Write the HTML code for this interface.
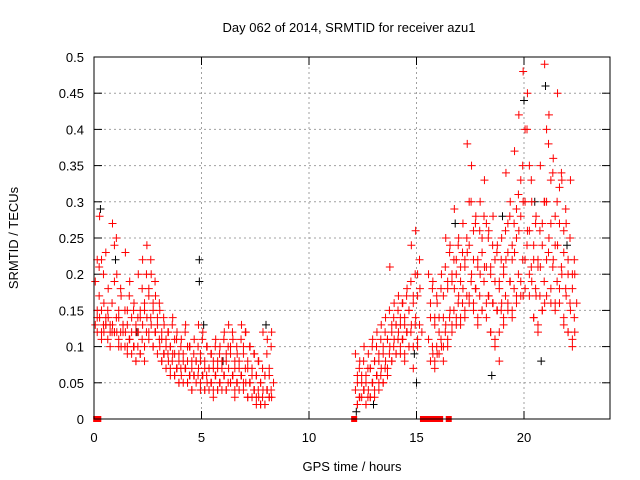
<!DOCTYPE html>
<html><head><meta charset="utf-8"><style>
body{margin:0;background:#fff}
svg{display:block;font-family:"Liberation Sans",sans-serif}
</style></head><body>
<svg id="chart" width="640" height="480">
<text x="349" y="32" font-size="13" text-anchor="middle">Day 062 of 2014, SRMTID for receiver azu1</text>
<text x="352" y="471" font-size="13" text-anchor="middle">GPS time / hours</text>
<text transform="translate(18,238) rotate(-90)" font-size="13" text-anchor="middle">SRMTID / TECUs</text>
<g id="grid"></g>
<g id="ticks"></g>
<g id="marks"></g>
<rect x="94" y="57" width="516" height="362" fill="none" stroke="#000"/>
</svg>
<script>
const xTicks=[0,5,10,15,20];
const yTicks=[0,0.05,0.1,0.15,0.2,0.25,0.3,0.35,0.4,0.45,0.5];
const yTickLabels=["0","0.05","0.1","0.15","0.2","0.25","0.3","0.35","0.4","0.45","0.5"];
const redTimes=[0.1,0.3,0.5,0.7,0.9,1.1,1.3,1.5,1.7,1.9,2.1,2.3,2.5,2.7,2.9,3.1,3.3,3.5,3.7,3.9,4.1,4.3,4.5,4.7,4.9,5.1,5.3,5.5,5.7,5.9,6.1,6.3,6.5,6.7,6.9,7.1,7.3,7.5,7.7,7.9,8.1,8.3,
12.2,12.4,12.6,12.8,13.0,13.2,13.4,13.6,13.8,14.0,14.2,14.4,14.6,14.8,15.0,15.2,
15.6,15.8,16.0,16.2,16.4,16.6,16.8,17.0,17.2,17.4,17.6,17.8,18.0,18.2,18.4,18.6,18.8,19.0,19.2,19.4,19.6,19.8,20.0,20.2,20.4,20.6,20.8,21.0,21.2,21.4,21.6,21.8,22.0,22.2,22.4];
const redValues=[[0.19,0.15,0.13,0.22],[0.28,0.22,0.14,0.12],[0.16,0.13,0.12,0.23],[0.14,0.12,0.18],[0.27,0.24,0.13,0.12],[0.2,0.15,0.12,0.11],[0.17,0.13,0.1],[0.23,0.15,0.12,0.09],[0.19,0.14,0.11],[0.16,0.13,0.1,0.08],[0.2,0.15,0.12,0.09],[0.22,0.16,0.13,0.08],[0.24,0.18,0.14,0.11],[0.2,0.16,0.13,0.1],[0.17,0.14,0.12],[0.15,0.12,0.1,0.08],[0.13,0.11,0.09],[0.12,0.1,0.08,0.07],[0.14,0.11,0.09,0.06],[0.12,0.09,0.07,0.05],[0.11,0.08,0.06],[0.13,0.1,0.07,0.05],[0.1,0.08,0.06,0.04],[0.11,0.08,0.06],[0.13,0.09,0.07,0.05],[0.12,0.08,0.06,0.04],[0.1,0.07,0.05],[0.09,0.07,0.05,0.03],[0.11,0.08,0.06,0.04],[0.1,0.07,0.05],[0.12,0.09,0.06,0.04],[0.13,0.1,0.07,0.05],[0.11,0.08,0.06,0.03],[0.09,0.07,0.05],[0.13,0.1,0.06,0.04],[0.12,0.08,0.05,0.03],[0.1,0.07,0.05],[0.09,0.06,0.04,0.03],[0.08,0.05,0.03,0.02],[0.12,0.06,0.04,0.02],[0.11,0.07,0.04,0.03],[0.12,0.05,0.03],
[0.09,0.06,0.04,0.02],[0.08,0.05,0.03],[0.1,0.06,0.04,0.02],[0.09,0.07,0.04,0.03],[0.11,0.08,0.05,0.03],[0.12,0.09,0.06,0.04],[0.13,0.1,0.07,0.05],[0.14,0.11,0.08,0.06],[0.21,0.13,0.1,0.08],[0.16,0.13,0.11,0.09],[0.17,0.14,0.12,0.09],[0.16,0.13,0.11,0.08],[0.18,0.15,0.12,0.1],[0.24,0.17,0.13,0.07],[0.26,0.2,0.14,0.1],[0.18,0.12],
[0.2,0.16,0.11],[0.19,0.14,0.09,0.07],[0.16,0.12,0.09],[0.2,0.14,0.1,0.08],[0.25,0.19,0.13,0.1],[0.24,0.2,0.15,0.12],[0.29,0.22,0.18,0.14],[0.25,0.21,0.17,0.13],[0.27,0.22,0.18,0.15],[0.38,0.3,0.23,0.17],[0.35,0.26,0.2,0.16],[0.28,0.22,0.18,0.13],[0.3,0.25,0.2,0.15],[0.33,0.27,0.21,0.16],[0.26,0.21,0.17,0.12],[0.28,0.22,0.16,0.1],[0.24,0.19,0.15,0.08],[0.25,0.2,0.16,0.13],[0.34,0.27,0.22,0.16],[0.3,0.24,0.19,0.14],[0.37,0.29,0.23,0.17],[0.42,0.33,0.26,0.19],[0.48,0.4,0.3,0.22,0.17],[0.45,0.35,0.26,0.2],[0.3,0.24,0.19,0.14],[0.28,0.22,0.17,0.12],[0.35,0.27,0.21,0.15],[0.49,0.4,0.3,0.22,0.16],[0.42,0.33,0.25,0.18],[0.36,0.28,0.22,0.16],[0.45,0.32,0.24,0.18],[0.33,0.26,0.2,0.14],[0.27,0.22,0.17,0.12],[0.33,0.2,0.15,0.1],[0.2,0.16,0.12]];
const redTimes2=[0.2,0.4,0.6,0.8,1.0,1.2,1.4,1.6,1.8,2.0,2.2,2.4,2.6,2.8,3.0,3.2,3.4,3.6,3.8,4.0,4.2,4.4,4.6,4.8,5.0,5.2,5.4,5.6,5.8,6.0,6.2,6.4,6.6,6.8,7.0,7.2,7.4,7.6,7.8,8.0,8.2,
12.3,12.5,12.7,12.9,13.1,13.3,13.5,13.7,13.9,14.1,14.3,14.5,14.7,14.9,15.1,
15.7,15.9,16.1,16.3,16.5,16.7,16.9,17.1,17.3,17.5,17.7,17.9,18.1,18.3,18.5,18.7,18.9,19.1,19.3,19.5,19.7,19.9,20.1,20.3,20.5,20.7,20.9,21.1,21.3,21.5,21.7,21.9,22.1,22.3];
const redValues2=[[0.17,0.14,0.21,0.12],[0.2,0.15,0.13,0.11],[0.15,0.13,0.11,0.14],[0.16,0.13,0.12,0.1],[0.25,0.19,0.14,0.12],[0.18,0.14,0.12,0.1],[0.15,0.12,0.1,0.13],[0.17,0.13,0.11,0.1],[0.15,0.12,0.1,0.09],[0.14,0.12,0.1,0.08],[0.18,0.14,0.11,0.09],[0.2,0.15,0.12,0.1],[0.22,0.17,0.14,0.12],[0.19,0.15,0.12,0.1],[0.16,0.13,0.11,0.09],[0.14,0.11,0.09,0.08],[0.12,0.1,0.09,0.07],[0.13,0.1,0.08,0.06],[0.11,0.09,0.07,0.06],[0.1,0.08,0.07,0.05],[0.12,0.09,0.07,0.05],[0.1,0.08,0.06,0.05],[0.09,0.07,0.06,0.04],[0.1,0.08,0.06,0.05],[0.11,0.08,0.06,0.04],[0.1,0.07,0.06,0.04],[0.09,0.07,0.05,0.04],[0.1,0.08,0.06,0.04],[0.09,0.07,0.05,0.04],[0.11,0.08,0.06,0.04],[0.1,0.08,0.05,0.04],[0.12,0.09,0.06,0.05],[0.1,0.07,0.05,0.04],[0.11,0.08,0.06,0.04],[0.12,0.09,0.07,0.05],[0.1,0.07,0.05,0.03],[0.09,0.06,0.04,0.03],[0.08,0.06,0.04,0.02],[0.07,0.05,0.03,0.02],[0.09,0.06,0.04,0.02],[0.1,0.06,0.04,0.03],
[0.07,0.05,0.03,0.02],[0.08,0.06,0.04,0.03],[0.07,0.05,0.03,0.02],[0.1,0.07,0.05,0.03],[0.1,0.08,0.06,0.04],[0.11,0.08,0.06,0.05],[0.12,0.09,0.07,0.05],[0.15,0.11,0.09,0.07],[0.14,0.12,0.1,0.08],[0.15,0.13,0.11,0.09],[0.16,0.13,0.11,0.1],[0.17,0.14,0.12,0.09],[0.19,0.15,0.12,0.1],[0.2,0.16,0.13,0.1],[0.22,0.17,0.13,0.11],
[0.18,0.14,0.1,0.08],[0.17,0.13,0.1,0.08],[0.18,0.14,0.11,0.09],[0.21,0.17,0.12,0.1],[0.23,0.18,0.14,0.11],[0.22,0.19,0.15,0.13],[0.24,0.2,0.16,0.13],[0.23,0.19,0.16,0.14],[0.25,0.21,0.17,0.14],[0.3,0.24,0.19,0.16],[0.27,0.22,0.18,0.15],[0.26,0.21,0.17,0.14],[0.28,0.23,0.19,0.15],[0.25,0.21,0.17,0.14],[0.24,0.2,0.16,0.12],[0.23,0.19,0.15,0.11],[0.22,0.18,0.15,0.12],[0.26,0.21,0.17,0.14],[0.28,0.23,0.19,0.15],[0.27,0.22,0.18,0.15],[0.31,0.25,0.2,0.16],[0.35,0.28,0.22,0.17],[0.4,0.3,0.24,0.18],[0.33,0.26,0.21,0.17],[0.27,0.22,0.18,0.14],[0.26,0.21,0.17,0.13],[0.3,0.24,0.19,0.15],[0.38,0.3,0.23,0.17],[0.34,0.27,0.21,0.16],[0.3,0.24,0.19,0.15],[0.34,0.27,0.21,0.16],[0.29,0.23,0.18,0.13],[0.25,0.2,0.16,0.12],[0.22,0.18,0.14,0.11]];
const zeroTimes=[0.1,0.2,12.1,15.3,15.4,15.5,15.6,15.7,15.8,15.9,16.0,16.1,16.5];
const blackTimes=[0.3,1.0,2.0,4.9,4.9,5.1,6.0,8.0,12.2,13.0,14.9,15.0,16.8,18.5,19.0,20.0,20.5,20.8,21.0,22.0];
const blackValues=[0.29,0.22,0.12,0.22,0.19,0.13,0.08,0.13,0.01,0.02,0.09,0.05,0.27,0.06,0.28,0.44,0.3,0.08,0.46,0.24];

const X0=94,X1=610,Y0=419,Y1=57,XMAX=24,YMAX=0.5;
const sx=t=>X0+(t/XMAX)*(X1-X0);
const sy=v=>Y0-(v/YMAX)*(Y0-Y1);
const NS="http://www.w3.org/2000/svg";
const grid=document.getElementById('grid'),ticks=document.getElementById('ticks'),marks=document.getElementById('marks');
function mk(tag,attrs,parent){const e=document.createElementNS(NS,tag);for(const k in attrs)e.setAttribute(k,attrs[k]);parent.appendChild(e);return e;}
yTicks.forEach((v,i)=>{
  const y=sy(v);
  if(i>0&&i<yTicks.length-1){const g=mk('line',{x1:X0,x2:X1,y1:y,y2:y,stroke:'#a0a0a0','stroke-dasharray':'2,3'},grid);
  
  }
  mk('line',{x1:X0,x2:X0+8,y1:y,y2:y,stroke:'#000'},ticks);
  mk('line',{x1:X1,x2:X1-8,y1:y,y2:y,stroke:'#000'},ticks);
  const t=mk('text',{x:84,y:y+5,'font-size':13,'text-anchor':'end'},ticks);t.textContent=yTickLabels[i];
  
  
});
xTicks.forEach(v=>{
  const x=sx(v);
  if(v>0){const g=mk('line',{x1:x,x2:x,y1:Y0,y2:Y1,stroke:'#a0a0a0','stroke-dasharray':'2,3'},grid);
  
  }
  mk('line',{x1:x,x2:x,y1:Y0,y2:Y0-8,stroke:'#000'},ticks);
  mk('line',{x1:x,x2:x,y1:Y1,y2:Y1+8,stroke:'#000'},ticks);
  const t=mk('text',{x:x,y:442,'font-size':13,'text-anchor':'middle'},ticks);t.textContent=String(v);
  
  
});
function plus(t,v,col,name){
  const x=sx(t),y=sy(v);
  const p=mk('path',{d:`M${x-4},${y}H${x+4}M${x},${y-4}V${y+4}`,stroke:col,'stroke-width':1,fill:'none'},marks);
  
  
}
blackTimes.forEach((t,i)=>plus(t,blackValues[i],'#000','black-point'));
redTimes.forEach((t,i)=>redValues[i].forEach((v,j)=>plus(t+(j%2?0.05:-0.04),v,'#f00','red-point')));
redTimes2.forEach((t,i)=>redValues2[i].forEach((v,j)=>plus(t+(j%2?-0.05:0.04),v,'#f00','red-point')));
zeroTimes.forEach(t=>{
  const r=mk('rect',{x:sx(t)-3,y:Y0-3,width:6,height:6,fill:'#f00'},marks);
  
  
});
</script>
</body></html>
